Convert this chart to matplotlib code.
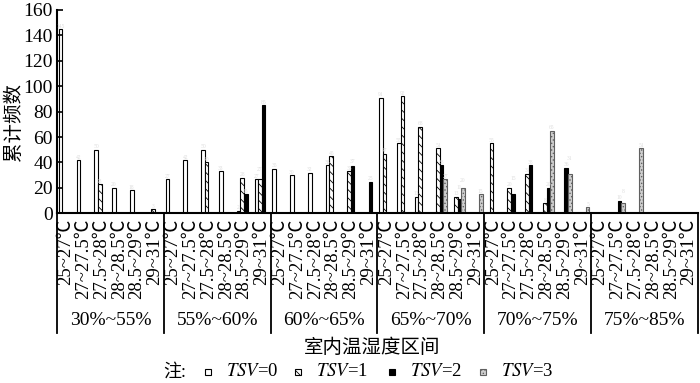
import matplotlib
matplotlib.use("Agg")
import matplotlib.pyplot as plt
import matplotlib.transforms as mtransforms
from matplotlib.patches import Rectangle
import numpy as np

plt.rcParams['font.family'] = ['Liberation Serif', 'Noto Sans CJK SC']
plt.rcParams['mathtext.fontset'] = 'stix'
plt.rcParams['hatch.linewidth'] = 0.6

# 湿度分组 / 温度区间
humid = ['30%~55%', '55%~60%', '60%~65%', '65%~70%', '70%~75%', '75%~85%']
temps = ['25~27℃', '27~27.5℃', '27.5~28℃', '28~28.5℃', '28.5~29℃', '29~31℃']

# 累计频数, 每组6个温度区间
tsv0 = [145, 42, 50, 20, 18, 0,
        27, 42, 50, 33, 2, 27,
        35, 30, 32, 38, 0, 0,
        91, 55, 13, 0, 0, 0,
        0, 0, 0, 0, 0, 0,
        0, 0, 0, 0, 0, 0]
tsv1 = [0, 0, 23, 0, 0, 3,
        0, 0, 40, 0, 28, 27,
        0, 0, 0, 45, 33, 0,
        47, 92, 68, 51, 13, 0,
        55, 20, 31, 8, 0, 0,
        0, 0, 0, 0, 0, 0]
tsv2 = [0, 0, 0, 0, 0, 0,
        0, 0, 0, 0, 15, 85,
        0, 0, 0, 0, 37, 25,
        0, 0, 0, 38, 11, 0,
        0, 15, 38, 20, 36, 0,
        0, 10, 0, 0, 0, 0]
tsv3 = [0, 0, 0, 0, 0, 0,
        0, 0, 0, 0, 0, 0,
        0, 0, 0, 0, 0, 0,
        0, 0, 0, 27, 20, 15,
        0, 0, 0, 65, 31, 5,
        0, 8, 51, 0, 0, 0]

series = [tsv0, tsv1, tsv2, tsv3]
names = [r'$TSV$=0', r'$TSV$=1', r'$TSV$=2', r'$TSV$=3']
styles = [dict(facecolor='white', edgecolor='black', hatch=None),
          dict(facecolor='white', edgecolor='black', hatch='\\\\\\\\'),
          dict(facecolor='black', edgecolor='black', hatch=None),
          dict(facecolor='#cfcfcf', edgecolor='#606060', hatch='.....')]

fig = plt.figure(figsize=(7, 3.83), dpi=100)
ax = fig.add_axes([57 / 700, 1 - 213.3 / 383, 641 / 700, 203.3 / 383])

n = len(humid) * len(temps)
x = np.arange(n)
w = 0.2
for i, (vals, st) in enumerate(zip(series, styles)):
    ax.bar(x + (i - 1.5) * w, vals, width=w, linewidth=0.8, **st)

# 淡色数值标签, 相邻柱子标签太近时往上挪
px_per_unit = 203.3 / 160
for b in range(n):
    prev = None
    for i, vals in enumerate(series):
        v = vals[b]
        if not v:
            prev = None
            continue
        y = v * px_per_unit
        if prev is not None and abs(y - prev) < 6.5:
            y = prev + 6.5
        ax.annotate(str(v), xy=(b + (i - 1.5) * w, v),
                    xytext=(0, (y - v * px_per_unit) * 0.72 + 0.3),
                    textcoords='offset points', ha='center', va='bottom',
                    fontsize=4, color='#dddddd')
        prev = y

ax.set_xlim(-0.5, n - 0.5)
ax.set_ylim(0, 160)
ax.set_yticks(range(0, 161, 20))
ax.tick_params(axis='y', direction='in', length=4, width=1.2, labelsize=14, pad=3)
ax.set_xticks(x)
ax.set_xticklabels(temps * len(humid), rotation=90, va='top', fontsize=13.5)
ax.tick_params(axis='x', length=0, pad=4)
for s in ['top', 'right']:
    ax.spines[s].set_visible(False)
ax.spines['left'].set_linewidth(1.5)
ax.spines['bottom'].set_linewidth(1.5)

# 分组竖线和湿度标签
trans = mtransforms.blended_transform_factory(ax.transData, ax.transAxes)
for g in range(len(humid) + 1):
    xs = g * len(temps) - 0.5
    ax.plot([xs, xs], [0, -0.59], color='black', lw=1.3, transform=trans, clip_on=False)
for g, lab in enumerate(humid):
    ax.text(g * len(temps) + 2.5, -0.525, lab, transform=trans,
            ha='center', va='center', fontsize=14)

fig.text(14 / 700, 1 - 122 / 383, '累计频数', rotation=90, ha='center', va='center', fontsize=14)
fig.text(372 / 700, 1 - 348 / 383, '室内温湿度区间', ha='center', va='center', fontsize=14)

# 图例
ly = 1 - 372 / 383
fig.text(163 / 700, ly, '注:', ha='left', va='center', fontsize=13)
mark_x = [208, 298, 392, 483]
for mx, st, name in zip(mark_x, styles, names):
    fig.add_artist(Rectangle(((mx - 3) / 700, ly - 3 / 383), 6 / 700, 6 / 383,
                             transform=fig.transFigure, linewidth=0.8, **st))
    fig.text((mx + 18) / 700, ly, name, ha='left', va='center', fontsize=13.5)

fig.savefig('out.png', dpi=100)
